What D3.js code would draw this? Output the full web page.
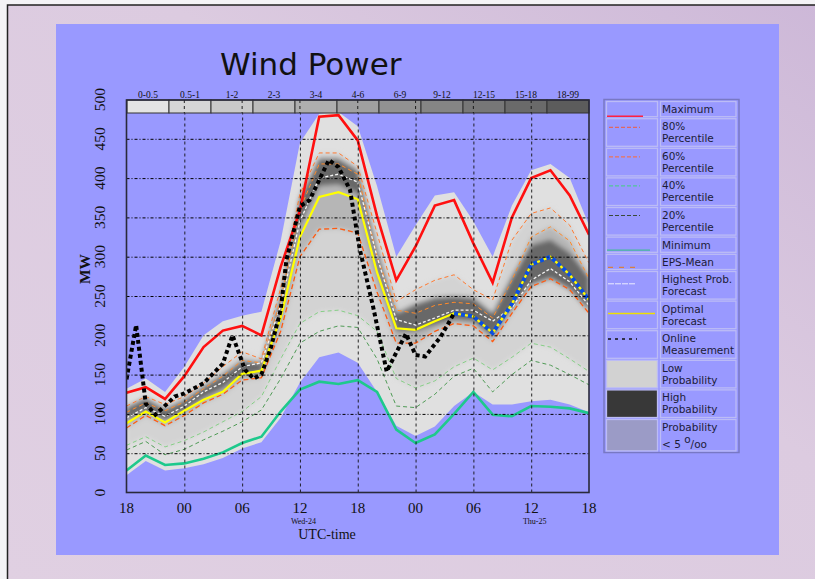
<!DOCTYPE html>
<meta charset="utf-8">
<style>
body { margin:0; background:#f4f3f6; }
svg { display:block; }
.serif { font-family: "Liberation Serif", "DejaVu Serif", serif; }
.sans { font-family: "DejaVu Sans", Verdana, sans-serif; }
</style>
<script src="https://d3js.org/d3.v7.min.js"></script>
<svg id="chart"></svg>
<script>
// forecast grid: hours after Tue 18 UTC
var hours = [0,2,4,6,8,10,12,14,16,18,20,22,24,26,28,30,32,34,36,38,40,42,44,46,48];

// forecast curves (MW)
var maxMW   = [127,134,119,148,185,206,212,200,287,359,478,480,448,352,270,313,365,372,317,267,350,400,410,378,328];
var p80     = [110,122,112,122,139,160,179,170,260,380,432,432,415,330,243,258,270,277,258,245,321,355,362,340,292];
var p60     = [102,114,104,115,132,148,168,165,245,360,418,418,405,300,232,228,238,242,240,222,270,325,338,320,272];
var epsMean = [82,98,85,98,114,125,143,146,205,300,335,336,330,255,190,190,205,215,212,192,228,262,272,258,228];
var p40     = [60,71,58,66,77,90,103,122,170,215,230,232,225,205,145,133,142,160,171,156,172,190,185,170,154];
var p20     = [54,65,48,55,67,78,90,105,145,190,205,212,210,170,110,108,125,148,158,128,150,168,162,150,137];
var minMW   = [28,47,35,37,43,51,63,71,103,131,141,138,143,128,80,63,74,100,128,99,97,110,109,107,101];
var highest = [95,108,97,110,128,140,160,165,238,345,400,405,395,300,220,213,222,232,232,218,235,270,285,268,238];
var optimal = [88,103,89,104,118,128,151,155,222,325,376,382,373,280,209,207,218,228,224,203,240,290,300,277,245];

// probability shading
var lowProbTop    = [132,145,128,160,200,218,225,230,320,445,482,484,466,390,300,340,378,382,345,300,365,410,418,400,340];
var lowProbBottom = [22,40,28,31,36,44,56,64,95,140,172,178,165,128,85,72,84,110,128,112,112,116,118,112,102];
var highProbLow   = [92,104,92,104,120,132,150,153,228,340,390,392,380,285,205,205,213,220,218,198,235,265,272,258,232];
var highProbHigh  = [108,120,106,118,135,150,168,165,250,375,425,425,410,310,228,240,248,250,248,228,275,315,322,305,275];

// online measurement
var measHours = [0,1,2,3,5,6,8,10,11,12.3,13.2,14,15,16,16.6,18,19,21,22,23.2,24.2,25.6,27,29,30,31,32.6,34];
var measMW    = [144,213,113,99,122,126,139,164,200,156,145,150,185,232,296,364,372,423,414,385,310,236,154,202,175,173,198,228];

// axes
var xTickHours  = [0,6,12,18,24,30,36,42,48];
var xTickLabels = ["18","00","06","12","18","00","06","12","18"];
var yTicks = [0,50,100,150,200,250,300,350,400,450,500];
var windClasses = ["0-0.5","0.5-1","1-2","2-3","3-4","4-6","6-9","9-12","12-15","15-18","18-99"];
var dayLabels = [{h:18, t:"Wed-24"}, {h:42, t:"Thu-25"}];

var legendLabels = [["Maximum"],["80%","Percentile"],["60%","Percentile"],["40%","Percentile"],["20%","Percentile"],
  ["Minimum"],["EPS-Mean"],["Highest Prob.","Forecast"],["Optimal","Forecast"],["Online","Measurement"],
  ["Low","Probability"],["High","Probability"],["Probability","< 5 "]];

var W = 815, H = 579;
var plot = {left:126.5, right:589, top:100, bottom:492.5, barBottom:113};

var svg = d3.select("#chart").attr("width", W).attr("height", H);
var defs = svg.append("defs");
var grad = defs.append("linearGradient").attr("id","bg").attr("x1","0").attr("y1","1").attr("x2","1").attr("y2","0");
grad.append("stop").attr("offset","0").attr("stop-color","#e0d0e2");
grad.append("stop").attr("offset","0.6").attr("stop-color","#dccbe0");
grad.append("stop").attr("offset","1").attr("stop-color","#cdb8d8");
defs.append("filter").attr("id","blur").attr("x","-5%").attr("y","-20%").attr("width","110%").attr("height","140%")
  .append("feGaussianBlur").attr("stdDeviation", 2.5);
defs.append("clipPath").attr("id","clip").append("rect")
  .attr("x", plot.left).attr("y", plot.barBottom)
  .attr("width", plot.right - plot.left).attr("height", plot.bottom - plot.barBottom);

// page background + blue panel
svg.append("rect").attr("x",7.5).attr("y",5).attr("width",W).attr("height",H)
  .attr("fill","url(#bg)").attr("stroke","#222").attr("stroke-width",1.5);
svg.append("rect").attr("x",56).attr("y",24).attr("width",723).attr("height",531).attr("fill","#9999ff");

svg.append("text").attr("class","sans").attr("x",220).attr("y",75)
  .attr("font-size",31).attr("fill","#111").text("Wind Power");

var x = d3.scaleLinear().domain([0,48]).range([plot.left, plot.right]);
var y = d3.scaleLinear().domain([0,500]).range([plot.bottom, 99.5]);

var g = svg.append("g").attr("clip-path","url(#clip)");

function band(lo, hi) {
  return d3.area().x((d,i) => x(hours[i])).y0((d,i) => y(lo[i])).y1((d,i) => y(hi[i]))(hours);
}
function line(hs, vs) {
  return d3.line().x((d,i) => x(hs[i])).y((d,i) => y(vs[i]))(hs);
}

// probability shading
g.append("path").attr("d", band(lowProbBottom, lowProbTop)).attr("fill","#e0e0e0");
var shade = g.append("g").attr("filter","url(#blur)");
shade.append("path").attr("d", band(p40, p80)).attr("fill","#d3d3d3");
shade.append("path").attr("d", band(epsMean, p60)).attr("fill","#b6b6b6");
shade.append("path").attr("d", band(highProbLow, highProbHigh)).attr("fill","#686868");

// grid
svg.append("g").attr("transform","translate(" + plot.left + ",0)")
  .call(d3.axisLeft(y).tickValues(d3.range(50,500,50)).tickSize(-(plot.right-plot.left)).tickFormat(""))
  .call(s => s.select(".domain").remove())
  .selectAll("line").attr("stroke","#000").attr("stroke-dasharray","3,2,1,2").attr("stroke-width",1);
svg.append("g").attr("transform","translate(0," + plot.bottom + ")")
  .call(d3.axisBottom(x).tickValues(xTickHours.slice(1,-1)).tickSize(-(plot.bottom-plot.top)).tickFormat(""))
  .call(s => s.select(".domain").remove())
  .selectAll("line").attr("stroke","#111").attr("stroke-dasharray","3,3").attr("stroke-width",0.9);

// percentile lines
var dashed = [
  {v:p20, c:"#4f9a55", d:"4,3", w:1},
  {v:p40, c:"#86cf86", d:"4,3", w:1},
  {v:epsMean, c:"#ff5a10", d:"5,3", w:1.3},
  {v:p60, c:"#ff8a2a", d:"4,3", w:1},
  {v:p80, c:"#ff7a30", d:"4,3", w:1}
];
dashed.forEach(s => g.append("path").attr("d", line(hours, s.v)).attr("fill","none")
  .attr("stroke", s.c).attr("stroke-dasharray", s.d).attr("stroke-width", s.w));

g.append("path").attr("d", line(hours, minMW)).attr("fill","none").attr("stroke","#1ec98c").attr("stroke-width",2.6);
g.append("path").attr("d", line(hours, maxMW)).attr("fill","none").attr("stroke","#ff1010").attr("stroke-width",2.6);
g.append("path").attr("d", line(hours, highest)).attr("fill","none").attr("stroke","#f4f4f4").attr("stroke-dasharray","3,2").attr("stroke-width",1.3);
g.append("path").attr("d", line(hours, optimal)).attr("fill","none").attr("stroke","#ffff00").attr("stroke-width",2.2);

// latest part of optimal forecast highlighted in blue
var tailH = hours.filter(h => h >= 34), tailV = optimal.slice(hours.indexOf(34));
g.append("path").attr("d", line(tailH, tailV)).attr("fill","none").attr("stroke","#0a4fe0")
  .attr("stroke-dasharray","4,3").attr("stroke-width",4);

g.append("path").attr("d", line(measHours, measMW)).attr("fill","none").attr("stroke","#000")
  .attr("stroke-dasharray","4,3").attr("stroke-width",4);

// wind speed class bar
var xb = d3.scaleBand().domain(windClasses).range([127, plot.right]);
var shadeScale = d3.scaleLinear().domain([0, windClasses.length-1]).range(["#e4e4e4","#5c5c5c"]);
var bar = svg.append("g");
bar.selectAll("rect").data(windClasses).join("rect")
  .attr("x", d => xb(d)).attr("y", plot.top).attr("width", xb.bandwidth()).attr("height", plot.barBottom - plot.top)
  .attr("fill", (d,i) => shadeScale(i)).attr("stroke","#333").attr("stroke-width",1);
bar.selectAll("text").data(windClasses).join("text").attr("class","serif")
  .attr("x", d => xb(d) + xb.bandwidth()/2).attr("y", 98).attr("text-anchor","middle")
  .attr("font-size", 9.5).attr("fill","#111").text(d => d);
// grid through the bar
svg.append("g").selectAll("line").data(xTickHours.slice(1,-1)).join("line")
  .attr("x1", d => x(d)).attr("x2", d => x(d)).attr("y1", plot.top).attr("y2", plot.barBottom)
  .attr("stroke","#111").attr("stroke-dasharray","3,3").attr("stroke-width",0.9);

// frame
svg.append("rect").attr("x", plot.left).attr("y", plot.top).attr("width", plot.right - plot.left)
  .attr("height", plot.bottom - plot.top).attr("fill","none").attr("stroke","#2a2a3a").attr("stroke-width",1.6);

// axes labels
svg.append("g").selectAll("text").data(yTicks).join("text").attr("class","serif")
  .attr("transform", d => "translate(105," + y(d) + ") rotate(-90)").attr("text-anchor","middle")
  .attr("font-size",15.5).attr("fill","#111").text(d => d);
svg.append("text").attr("class","serif").attr("transform","translate(90,269) rotate(-90)")
  .attr("text-anchor","middle").attr("font-size",15.5).attr("font-weight","bold").attr("fill","#111").text("MW");

svg.append("g").selectAll("text").data(xTickHours).join("text").attr("class","serif")
  .attr("x", d => x(d)).attr("y", 512.5).attr("text-anchor","middle").attr("font-size",15)
  .attr("fill","#111").text((d,i) => xTickLabels[i]);
svg.append("g").selectAll("text").data(dayLabels).join("text").attr("class","serif")
  .attr("x", d => x(d.h) + 3.5).attr("y", 524).attr("text-anchor","middle").attr("font-size",8)
  .attr("fill","#111").text(d => d.t);
svg.append("text").attr("class","serif").attr("x",327).attr("y",538.5).attr("text-anchor","middle")
  .attr("font-size",14).attr("fill","#111").text("UTC-time");

// legend table
var symbols = [
  {c:"#ff2040", w:1.5, dy:15.7, x1:607, x2:643},
  {c:"#f05a3a", w:1, d:"4,2", dy:9.6, x1:609, x2:640},
  {c:"#ff6a30", w:1, d:"4,2", dy:9.6, x1:609, x2:640},
  {c:"#40d080", w:1, d:"4,2", dy:9, x1:609, x2:640},
  {c:"#3a4a3a", w:1, d:"4,2", dy:9, x1:609, x2:640},
  {c:"#30c080", w:1, dy:14, x1:607, x2:650},
  {c:"#d88040", w:1.2, d:"5,6", dy:14, x1:608, x2:640},
  {c:"#ececff", w:1, d:"6,1", dy:13.3, x1:608, x2:636},
  {c:"#f0e000", w:1.5, dy:13.3, x1:608, x2:655},
  {c:"#111", w:1.3, d:"3,4", dy:9.3, x1:608, x2:637},
  {fill:"#d2d2d2"}, {fill:"#383838"}, {fill:"#9b9bc6"}
];
var leg = svg.append("g").attr("class","sans");
leg.append("rect").attr("x",604).attr("y",99.5).attr("width",135).attr("height",353)
  .attr("fill","none").attr("stroke","#7878c4").attr("stroke-width",1.5);
var rowTop = 100.5;
legendLabels.forEach(function(lines, i) {
  var h = lines.length === 1 ? 17.2 : (i === legendLabels.length-1 ? 33.4 : 29.6);
  var s = symbols[i];
  leg.append("rect").attr("x",606.5).attr("y",rowTop+1).attr("width",51).attr("height",h-2)
    .attr("fill", s.fill || "none").attr("stroke","#bcbcf6").attr("stroke-width",1.3);
  leg.append("rect").attr("x",660.5).attr("y",rowTop+1).attr("width",75.5).attr("height",h-2)
    .attr("fill","none").attr("stroke","#bcbcf6").attr("stroke-width",1.3);
  if (!s.fill) {
    leg.append("line").attr("x1",s.x1).attr("x2",s.x2).attr("y1",rowTop+s.dy).attr("y2",rowTop+s.dy)
      .attr("stroke",s.c).attr("stroke-width",s.w).attr("stroke-dasharray", s.d || null);
  }
  var t = leg.append("text").attr("x",662).attr("y",rowTop+12.5).attr("font-size",10.5).attr("fill","#1c1c38");
  t.append("tspan").attr("x",662).text(lines[0]);
  if (lines.length > 1) {
    t.append("tspan").attr("x",662).attr("dy", i === legendLabels.length-1 ? 16.5 : 12).text(lines[1]);
    if (i === legendLabels.length-1) {
      t.append("tspan").attr("dy",-5).text("o");
      t.append("tspan").attr("dy",5).text("/oo");
    }
  }
  rowTop += h;
});
</script>
